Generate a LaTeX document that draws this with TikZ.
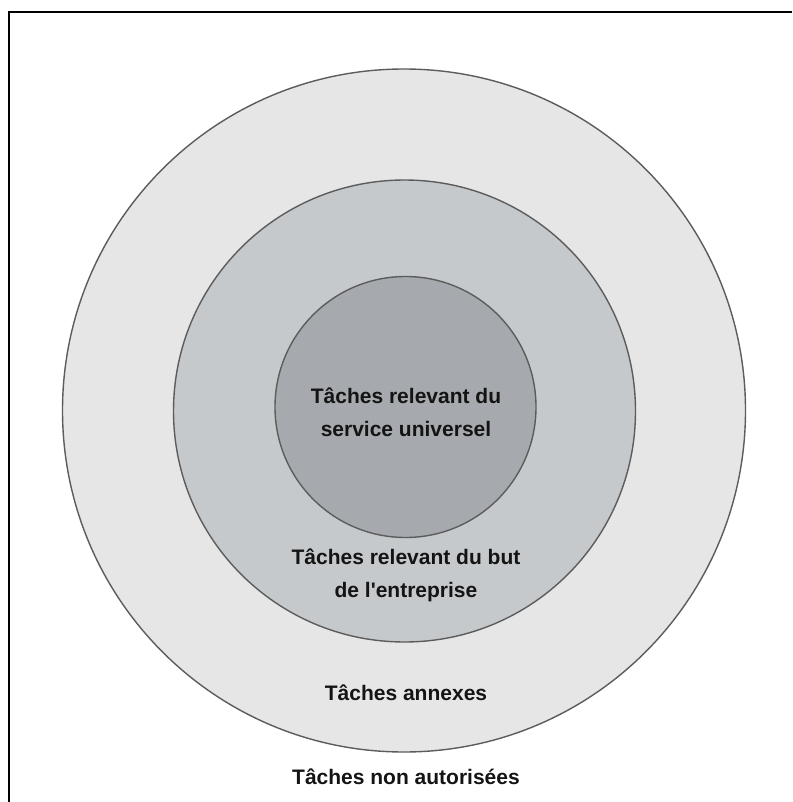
\documentclass[tikz,border=0pt]{standalone}
\usepackage{fontspec}
\newfontfamily\ringfont{Liberation Sans}
\definecolor{annexgray}{HTML}{E6E6E6}
\definecolor{butgray}{HTML}{C6C9CB}
\definecolor{servgray}{HTML}{A6AAAE}
\definecolor{ringline}{HTML}{5C5C5C}
\begin{document}
\begin{tikzpicture}[x = 1pt, y = -1pt,
	ring/.style = {circle, draw = ringline, line width = 1.4pt, inner sep = 0pt},
	tasklabel/.style = {font = \ringfont\bfseries\fontsize{21}{33}\selectfont, text = black!92, align = center, anchor = base}]
	\useasboundingbox (0, 0) rectangle (792, 802);
	\draw [line width = 2pt] (8.5, 802) -- (8.5, 12.5) -- (792, 12.5);
	\node [ring, fill = annexgray, minimum size = 683pt] (annexes) at (404, 410.5) {};
	\node [ring, fill = butgray, minimum size = 462pt] (but) at (404.5, 411) {};
	\node [ring, fill = servgray, minimum size = 261pt] (service) at (405.5, 407) {};
	\node [tasklabel] (servtext) at (406, 436.5) {Tâches relevant du\\service universel};
	\node [tasklabel] (buttext) at (406, 597) {Tâches relevant du but\\de l'entreprise};
	\node [tasklabel] (annextext) at (406, 700) {Tâches annexes};
	\node [tasklabel] (nontext) at (406, 784) {Tâches non autorisées};
\end{tikzpicture}
\end{document}
